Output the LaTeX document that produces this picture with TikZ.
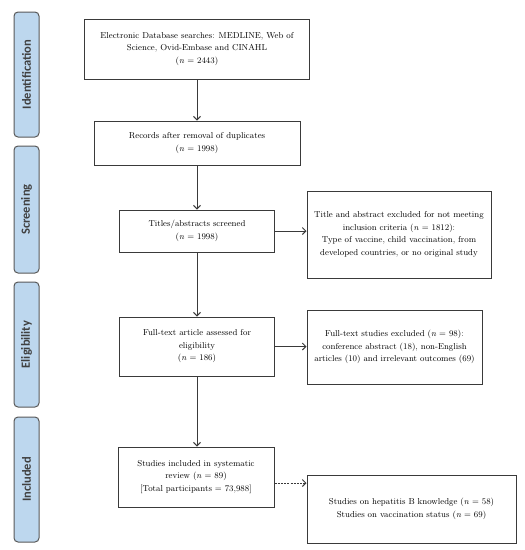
\documentclass[tikz,border=0pt]{standalone}
\usepackage{fontspec}
\newfontfamily\sidefont{Carlito}
\usetikzlibrary{arrows.meta}
\definecolor{sidefill}{HTML}{BDD7EE}
\definecolor{sideline}{HTML}{595959}
\definecolor{boxline}{HTML}{3A3A3A}
\definecolor{sidetext}{HTML}{404040}
\tikzset{
  mainbox/.style={draw=boxline, line width=1pt, fill=white, align=center, inner sep=2pt,
    font=\fontsize{8.6}{12.5}\selectfont, text=black},
  sidebox/.style={draw=sideline, line width=1pt, fill=sidefill, rounded corners=4pt,
    minimum width=25pt, minimum height=125pt, inner sep=0pt},
  sidelabel/.style={rotate=90, font=\sidefont\bfseries\fontsize{12.5}{14}\selectfont, text=sidetext},
  arr/.style={draw=boxline, line width=1pt, -{Straight Barb[length=3.5pt,width=7pt]}},
}
\begin{document}
\begin{tikzpicture}[x=1pt,y=-1pt]
\useasboundingbox (0,0) rectangle (525,550);
% side phase boxes
\node[sidebox] (sid) at (26.5,74.5) {};
\node[sidelabel] (lid) at (sid) {Identification};
\node[sidebox, minimum height=127pt] (ssc) at (26.5,209.5) {};
\node[sidelabel] (lsc) at (ssc) {Screening};
\node[sidebox] (sel) at (26.5,344.5) {};
\node[sidelabel] (lel) at (sel) {Eligibility};
\node[sidebox] (sin) at (26.5,479.5) {};
\node[sidelabel] (lin) at (sin) {Included};
% main boxes
\node[mainbox, minimum width=225pt, minimum height=60pt] (b1) at (197,49)
  {Electronic Database searches: MEDLINE, Web of\\ Science, Ovid-Embase and CINAHL\\ (\textit{n} = 2443)};
\node[mainbox, minimum width=206pt, minimum height=44pt] (b2) at (197,143)
  {Records after removal of duplicates\\ (\textit{n} = 1998)};
\node[mainbox, minimum width=155pt, minimum height=42pt] (b3) at (197,231)
  {Titles/abstracts screened\\ (\textit{n} = 1998)};
\node[mainbox, minimum width=155pt, minimum height=59pt] (b4) at (197,346.5)
  {Full-text article assessed for\\ eligibility\\ (\textit{n} = 186)};
\node[mainbox, minimum width=156pt, minimum height=60pt] (b5) at (196,477)
  {Studies included in systematic\\ review (\textit{n} = 89)\\ {[}Total participants = 73,988{]}};
% right boxes
\node[mainbox, minimum width=184pt, minimum height=87pt] (r1) at (399,234.5)
  {Title and abstract excluded for not meeting\\ inclusion criteria (\textit{n} = 1812):\\ Type of vaccine, child vaccination, from\\ developed countries, or no original study};
\node[mainbox, minimum width=175pt, minimum height=74pt] (r2) at (394.5,347)
  {Full-text studies excluded (\textit{n} = 98):\\ conference abstract (18), non-English\\ articles (10) and irrelevant outcomes (69)};
\node[mainbox, minimum width=209pt, minimum height=68pt] (r3) at (411.5,509)
  {Studies on hepatitis B knowledge (\textit{n} = 58)\\ Studies on vaccination status (\textit{n} = 69)};
% connectors
\draw[arr] (b1.south) -- (b2.north);
\draw[arr] (b2.south) -- (b3.north);
\draw[arr] (b3.south) -- (b4.north);
\draw[arr] (b4.south) -- (b4.south |- b5.north);
\draw[arr] (b3.east) -- (r1.west |- b3.east);
\draw[arr] (b4.east) -- (r2.west |- b4.east);
\coordinate (d5) at ([yshift=-6pt]b5.east);
\draw[arr, dashed, dash pattern=on 2pt off 1.2pt] (d5) -- (r3.west |- d5);
\end{tikzpicture}
\end{document}
